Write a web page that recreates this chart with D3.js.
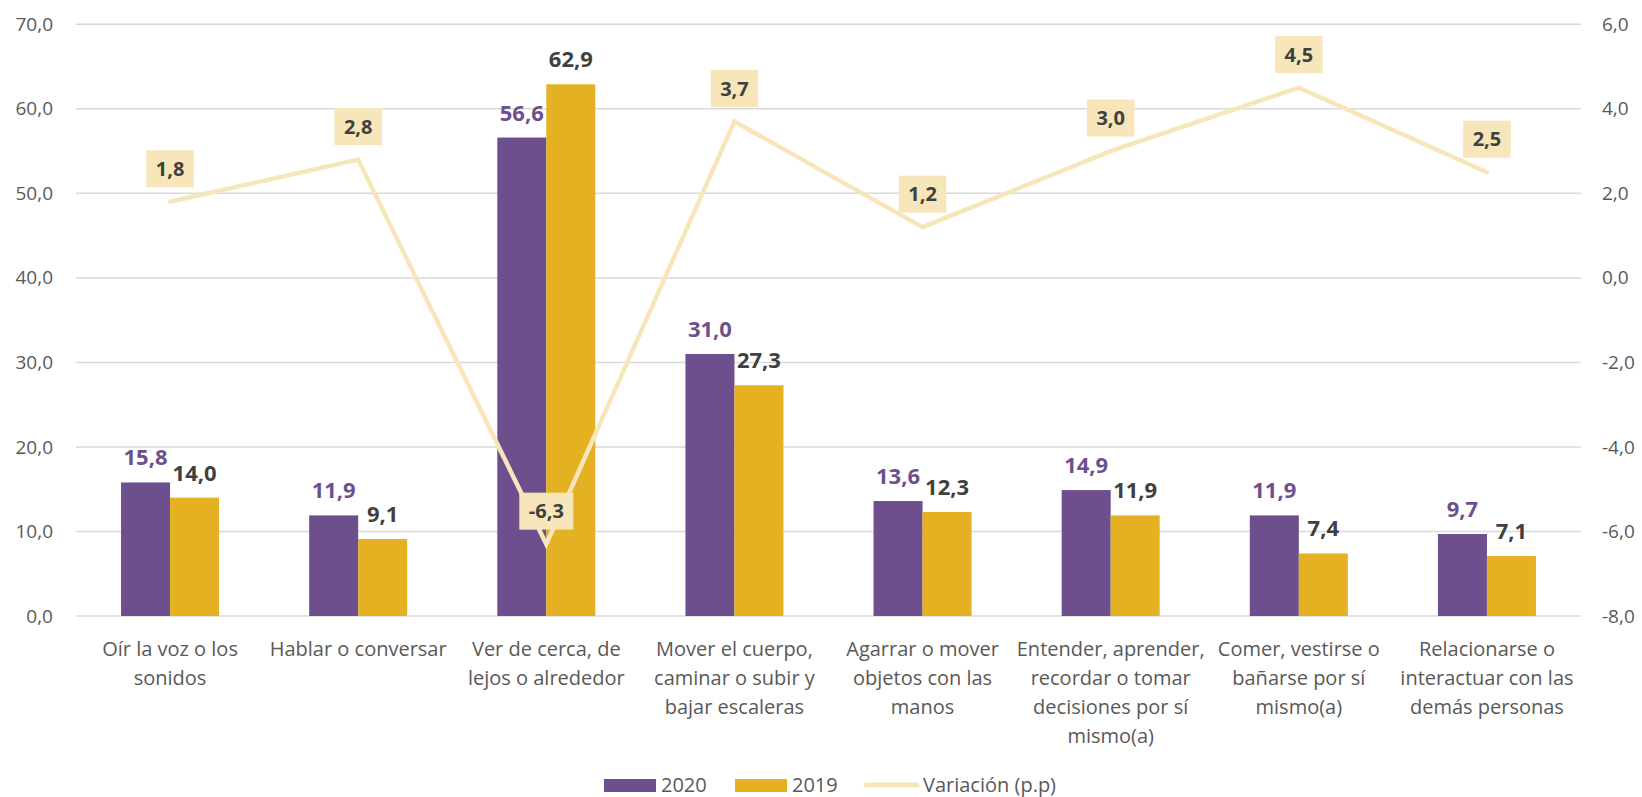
<!DOCTYPE html>
<html>
<head>
<meta charset="utf-8">
<script src="https://cdn.jsdelivr.net/npm/d3@7"></script>
<style>
  html, body { margin: 0; padding: 0; background: #fff; }
  svg { display: block; font-family: "Open Sans", "Noto Sans", sans-serif; }
</style>
</head>
<body>
<svg id="chart" width="1642" height="797"></svg>
<script>
// ---- Data ----
const categories = [
  "Oír la voz o los\nsonidos",
  "Hablar o conversar",
  "Ver de cerca, de\nlejos o alrededor",
  "Mover el cuerpo,\ncaminar o subir y\nbajar escaleras",
  "Agarrar o mover\nobjetos con las\nmanos",
  "Entender, aprender,\nrecordar o tomar\ndecisiones por sí\nmismo(a)",
  "Comer, vestirse o\nbañarse por sí\nmismo(a)",
  "Relacionarse o\ninteractuar con las\ndemás personas"
];
const seriesNames = ["2020", "2019"];
const values2020 = [15.8, 11.9, 56.6, 31.0, 13.6, 14.9, 11.9, 9.7];
const values2019 = [14.0, 9.1, 62.9, 27.3, 12.3, 11.9, 7.4, 7.1];
const variacion = [1.8, 2.8, -6.3, 3.7, 1.2, 3.0, 4.5, 2.5];
const lineName = "Variación (p.p)";
const leftTicks = [0, 10, 20, 30, 40, 50, 60, 70];
const rightTicks = [-8, -6, -4, -2, 0, 2, 4, 6];

// ---- Styles ----
const C2020 = "#6D4F8E";
const C2019 = "#E3B122";
const CLINE = "#F6E6B9";
const GRID = "#D9D9D9";
const AXTXT = "#595959";
const DARK = "#404040";

const svg = d3.select("#chart");
const plot = { left: 76, right: 1581, top: 24.3, bottom: 616 };

const x = d3.scaleBand().domain(categories).range([plot.left, plot.right])
  .paddingInner(0.479).paddingOuter(0.2395);
const x1 = d3.scaleBand().domain(seriesNames).range([0, x.bandwidth()]);
const yL = d3.scaleLinear().domain([0, 70]).range([plot.bottom, plot.top]);
const yR = d3.scaleLinear().domain([-8, 6]).range([plot.bottom, plot.top]);
const fmt = v => d3.format(".1f")(v).replace(".", ",").replace("−", "-");

// Gridlines
svg.append("g").selectAll("line").data(leftTicks).join("line")
  .attr("x1", plot.left).attr("x2", plot.right)
  .attr("y1", d => yL(d)).attr("y2", d => yL(d))
  .attr("stroke", GRID).attr("stroke-width", 1.5);

// Left axis
const gL = svg.append("g").attr("transform", `translate(${plot.left},0)`)
  .call(d3.axisLeft(yL).tickValues(leftTicks).tickFormat(fmt).tickSize(0).tickPadding(23));
gL.select(".domain").remove();
gL.selectAll("text").attr("fill", AXTXT).style("font-size", "19px").style("font-family", "'Open Sans', sans-serif");

// Right axis
const gR = svg.append("g").attr("transform", `translate(${plot.right},0)`)
  .call(d3.axisRight(yR).tickValues(rightTicks).tickFormat(fmt).tickSize(0).tickPadding(21));
gR.select(".domain").remove();
gR.selectAll("text").attr("fill", AXTXT).style("font-size", "19px").style("font-family", "'Open Sans', sans-serif");

// Bars
const rows = categories.map((c, i) => ({ c, vals: [values2020[i], values2019[i]] }));
const groups = svg.append("g").selectAll("g").data(rows).join("g")
  .attr("transform", d => `translate(${x(d.c)},0)`);
groups.selectAll("rect").data(d => d.vals.map((v, j) => ({ s: seriesNames[j], v })))
  .join("rect")
  .attr("x", d => x1(d.s)).attr("width", x1.bandwidth())
  .attr("y", d => yL(d.v)).attr("height", d => yL(0) - yL(d.v))
  .attr("fill", d => d.s === "2020" ? C2020 : C2019);

// Bar labels
groups.selectAll("text").data(d => d.vals.map((v, j) => ({ s: seriesNames[j], v })))
  .join("text")
  .attr("x", d => x1(d.s) + x1.bandwidth() / 2)
  .attr("y", d => yL(d.v) - 17)
  .attr("text-anchor", "middle")
  .attr("fill", d => d.s === "2020" ? C2020 : DARK)
  .style("font-size", "22px").style("font-weight", "700")
  .text(d => fmt(d.v));

// Line
const cx = c => x(c) + x.bandwidth() / 2;
const lineData = categories.map((c, i) => ({ c, v: variacion[i] }));
svg.append("path").datum(lineData)
  .attr("fill", "none").attr("stroke", CLINE).attr("stroke-width", 4.5)
  .attr("stroke-linejoin", "miter").attr("stroke-linecap", "round")
  .attr("d", d3.line().x(d => cx(d.c)).y(d => yR(d.v)));

// Line labels
const lbl = svg.append("g").selectAll("g").data(lineData).join("g")
  .attr("transform", d => `translate(${cx(d.c)},${yR(d.v) - 33})`);
lbl.append("rect").attr("fill", CLINE);
lbl.append("text").attr("text-anchor", "middle").attr("dy", "0.36em")
  .attr("fill", DARK).style("font-size", "20px").style("font-weight", "700")
  .text(d => fmt(d.v));
lbl.each(function () {
  const g = d3.select(this);
  const w = g.select("text").node().getComputedTextLength() + 19;
  g.select("rect").attr("x", -w / 2).attr("y", -18.5).attr("width", w).attr("height", 37);
});

// Category labels
const cat = svg.append("g").selectAll("text").data(categories).join("text")
  .attr("text-anchor", "middle")
  .attr("fill", AXTXT).style("font-size", "20px");
cat.each(function (d) {
  const t = d3.select(this);
  d.split("\n").forEach((line, i) => {
    t.append("tspan").attr("x", cx(d)).attr("y", 656 + i * 29).text(line);
  });
});

// Legend
const legend = svg.append("g");
const legItems = [
  { name: seriesNames[0], type: "rect", color: C2020, sx: 604, tx: 661 },
  { name: seriesNames[1], type: "rect", color: C2019, sx: 735, tx: 792 },
  { name: lineName, type: "line", color: CLINE, sx: 863, tx: 923 }
];
legItems.forEach(it => {
  if (it.type === "rect") {
    legend.append("rect").attr("x", it.sx).attr("y", 779).attr("width", 52).attr("height", 13).attr("fill", it.color);
  } else {
    legend.append("line").attr("x1", it.sx + 3).attr("x2", it.sx + 54).attr("y1", 785).attr("y2", 785)
      .attr("stroke", it.color).attr("stroke-width", 5).attr("stroke-linecap", "round");
  }
  legend.append("text").attr("x", it.tx).attr("y", 792).attr("fill", AXTXT)
    .style("font-size", "20px").text(it.name);
});
</script>
</body>
</html>
